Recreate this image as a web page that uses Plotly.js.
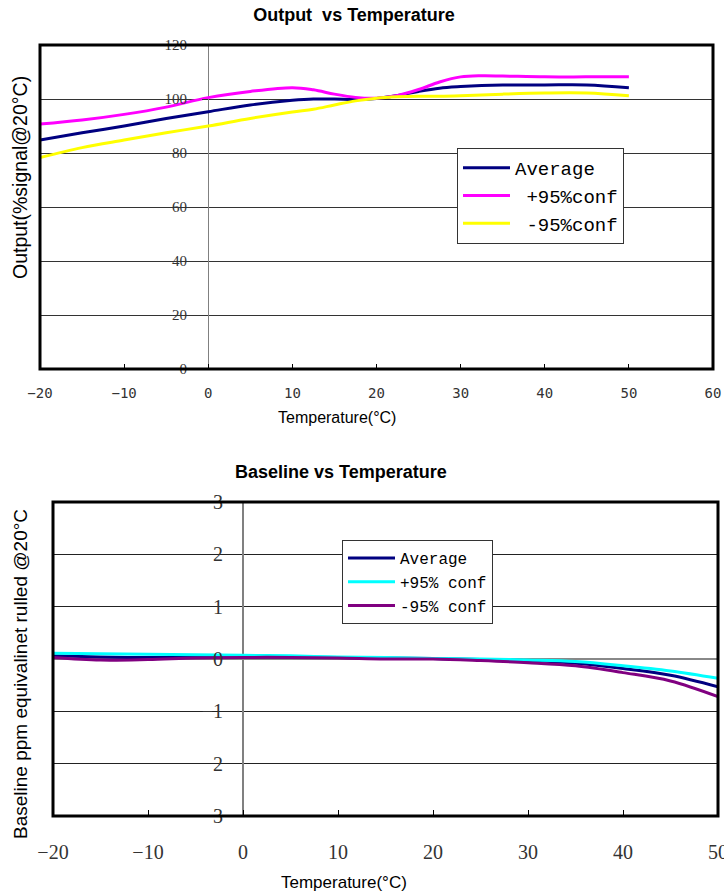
<!DOCTYPE html>
<html>
<head>
<meta charset="utf-8">
<script src="https://cdn.plot.ly/plotly-3.0.1.min.js"></script>
<style>html,body{margin:0;padding:0;background:#fff;}#chart{width:724px;height:895px;}</style>
</head>
<body>
<div id="chart"></div>
<script>
// ---- Top chart: Output vs Temperature ----
const topTemp = [-20, -15, -10, -5, 0, 5, 10, 12.5, 15, 17.5, 20, 22.5, 25, 27.5, 30, 32.5, 35, 40, 45, 50];
const topAverage = [84.8, 87.5, 90, 92.8, 95.3, 97.8, 99.5, 100, 100, 99.8, 100.2, 101.3, 102.8, 104, 104.6, 105, 105.2, 105.2, 105.2, 104.2];
const topPlus95 = [90.7, 92.2, 94.3, 97, 100.5, 102.8, 104.2, 103.4, 101.8, 100.6, 100.3, 101.3, 103.5, 106.3, 108.2, 108.6, 108.5, 108.2, 108.2, 108.2];
const topMinus95 = [78.3, 82, 84.8, 87.5, 90, 92.8, 95.2, 96.2, 97.8, 99.3, 100.3, 100.8, 101, 101, 101.2, 101.5, 101.8, 102.2, 102.2, 101.2];
const topXTicks = [-20, -10, 0, 10, 20, 30, 40, 50, 60];
const topYTicks = [0, 20, 40, 60, 80, 100, 120];
const topNames = ["Average", "\u00a0+95%conf", "\u00a0-95%conf"];

// ---- Bottom chart: Baseline vs Temperature ----
const botTemp = [-20, -15, -10, -5, 0, 5, 10, 15, 20, 25, 30, 35, 40, 45, 50];
const botAverage = [0.06, 0.04, 0.03, 0.04, 0.04, 0.04, 0.03, 0.02, 0.01, -0.01, -0.03, -0.08, -0.18, -0.31, -0.53];
const botPlus95 = [0.11, 0.10, 0.09, 0.08, 0.07, 0.06, 0.04, 0.03, 0.01, 0.0, -0.02, -0.05, -0.13, -0.23, -0.37];
const botMinus95 = [0.03, -0.02, -0.01, 0.02, 0.03, 0.03, 0.02, 0.0, 0.0, -0.03, -0.07, -0.13, -0.26, -0.42, -0.72];
const botXTicks = [-20, -10, 0, 10, 20, 30, 40, 50];
const botYTickVals = [3, 2, 1, 0, -1, -2, -3];
const botYTickText = ["3", "2", "1", "0", "\u22121", "2", "3"];
const botNames = ["Average", "+95% conf", "-95% conf"];

const W = 724, H = 895;
const px = v => v / W;
const py = v => 1 - v / H;

const traces = [
  {x: topTemp, y: topAverage, name: topNames[0], legendgroup: 'a', line: {color: '#000080', width: 3, shape: 'spline'}},
  {x: topTemp, y: topPlus95, name: topNames[1], legendgroup: 'b', line: {color: '#FF00FF', width: 3, shape: 'spline'}},
  {x: topTemp, y: topMinus95, name: topNames[2], legendgroup: 'c', line: {color: '#FFFF00', width: 3, shape: 'spline'}},
  {x: botTemp, y: botAverage, name: botNames[0], legendgroup: 'd', legend: 'legend2', xaxis: 'x2', yaxis: 'y2', line: {color: '#000080', width: 3, shape: 'spline'}},
  {x: botTemp, y: botPlus95, name: botNames[1], legendgroup: 'e', legend: 'legend2', xaxis: 'x2', yaxis: 'y2', line: {color: '#00FFFF', width: 3, shape: 'spline'}},
  {x: botTemp, y: botMinus95, name: botNames[2], legendgroup: 'f', legend: 'legend2', xaxis: 'x2', yaxis: 'y2', line: {color: '#800080', width: 3, shape: 'spline'}}
].map(t => Object.assign({type: 'scatter', mode: 'lines', hoverinfo: 'skip'}, t));

const titleFont = {family: 'Liberation Sans, Arial, sans-serif', size: 18, color: '#000'};
const axTitleFont = {family: 'Liberation Sans, Arial, sans-serif', size: 16, color: '#000'};

const layout = {
  width: W, height: H,
  margin: {l: 0, r: 0, t: 0, b: 0, pad: 0},
  paper_bgcolor: '#fff', plot_bgcolor: '#fff',
  showlegend: true,
  title: {text: '<b>Output  vs Temperature</b>', font: titleFont, x: px(354), xanchor: 'center', y: py(15), yanchor: 'middle', xref: 'paper', yref: 'paper'},
  xaxis: {
    domain: [px(40), px(713)], range: [-20, 60], tickvals: topXTicks,
    ticks: 'inside', ticklen: 5, tickcolor: '#000', tickwidth: 1,
    showgrid: false, zeroline: true, zerolinecolor: '#808080', zerolinewidth: 1,
    showline: false, fixedrange: true, ticklabelstandoff: 14, ticklabeloverflow: 'allow',
    tickfont: {family: 'DejaVu Sans Mono, monospace', size: 14, color: '#333'}
  },
  yaxis: {
    domain: [py(369), py(45)], range: [0, 120], tickvals: topYTicks,
    anchor: 'free', position: px(208), side: 'left',
    ticks: 'outside', ticklen: 6, tickcolor: '#333', tickwidth: 1,
    showgrid: true, gridcolor: '#333', gridwidth: 1, zeroline: false, showline: false,
    fixedrange: true, ticklabelstandoff: 12,
    tickfont: {family: 'Liberation Serif, serif', size: 15, color: '#333'}
  },
  xaxis2: {
    domain: [px(53), px(718)], range: [-20, 50], tickvals: botXTicks, anchor: 'y2',
    ticks: 'inside', ticklen: 6, tickcolor: '#000', tickwidth: 1,
    showgrid: false, zeroline: true, zerolinecolor: '#808080', zerolinewidth: 1.5,
    showline: false, fixedrange: true, ticklabelstandoff: 22, ticklabeloverflow: 'allow',
    tickfont: {family: 'Liberation Serif, serif', size: 20, color: '#333'}
  },
  yaxis2: {
    domain: [py(816), py(502)], range: [-3, 3], tickvals: botYTickVals, ticktext: botYTickText,
    anchor: 'free', position: px(243), side: 'left',
    ticks: '', showgrid: true, gridcolor: '#222', gridwidth: 1,
    zeroline: true, zerolinecolor: '#888', zerolinewidth: 1.5, showline: false,
    fixedrange: true, ticklabelstandoff: 20,
    tickfont: {family: 'Liberation Serif, serif', size: 20, color: '#333'}
  },
  legend: {
    x: px(457), y: py(148), xanchor: 'left', yanchor: 'top',
    bgcolor: '#fff', bordercolor: '#333', borderwidth: 1,
    font: {family: 'Liberation Mono, Courier New, monospace', size: 19, color: '#000'},
    itemwidth: 47, tracegroupgap: 7, traceorder: 'normal'
  },
  legend2: {
    x: px(342), y: py(540), xanchor: 'left', yanchor: 'top',
    bgcolor: '#fff', bordercolor: '#333', borderwidth: 1,
    font: {family: 'Liberation Mono, Courier New, monospace', size: 16, color: '#000'},
    itemwidth: 47, tracegroupgap: 3, traceorder: 'normal'
  },
  shapes: [
    {type: 'rect', xref: 'x domain', yref: 'y domain', x0: 0, x1: 1, y0: 0, y1: 1, line: {color: '#000', width: 3}, layer: 'above'},
    {type: 'rect', xref: 'x2 domain', yref: 'y2 domain', x0: 0, x1: 1, y0: 0, y1: 1, line: {color: '#000', width: 3}, layer: 'above'}
  ],
  annotations: [
    {text: 'Temperature(°C)', x: px(337), y: py(417), xref: 'paper', yref: 'paper', xanchor: 'center', yanchor: 'middle', showarrow: false, font: axTitleFont},
    {text: 'Output(%signal@20°C)', x: px(20), y: py(178), xref: 'paper', yref: 'paper', xanchor: 'center', yanchor: 'middle', textangle: -90, showarrow: false, font: {family: 'Liberation Sans, Arial, sans-serif', size: 19.5, color: '#000'}},
    {text: '<b>Baseline vs Temperature</b>', x: px(341), y: py(472), xref: 'paper', yref: 'paper', xanchor: 'center', yanchor: 'middle', showarrow: false, font: titleFont},
    {text: 'Temperature(°C)', x: px(344), y: py(882), xref: 'paper', yref: 'paper', xanchor: 'center', yanchor: 'middle', showarrow: false, font: {family: 'Liberation Sans, Arial, sans-serif', size: 17, color: '#000'}},
    {text: 'Baseline ppm equivalinet rulled @20°C', x: px(20), y: py(674), xref: 'paper', yref: 'paper', xanchor: 'center', yanchor: 'middle', textangle: -90, showarrow: false, font: {family: 'Liberation Sans, Arial, sans-serif', size: 19, color: '#000'}}
  ]
};

Plotly.newPlot('chart', traces, layout, {displayModeBar: false, staticPlot: true});
</script>
</body>
</html>
